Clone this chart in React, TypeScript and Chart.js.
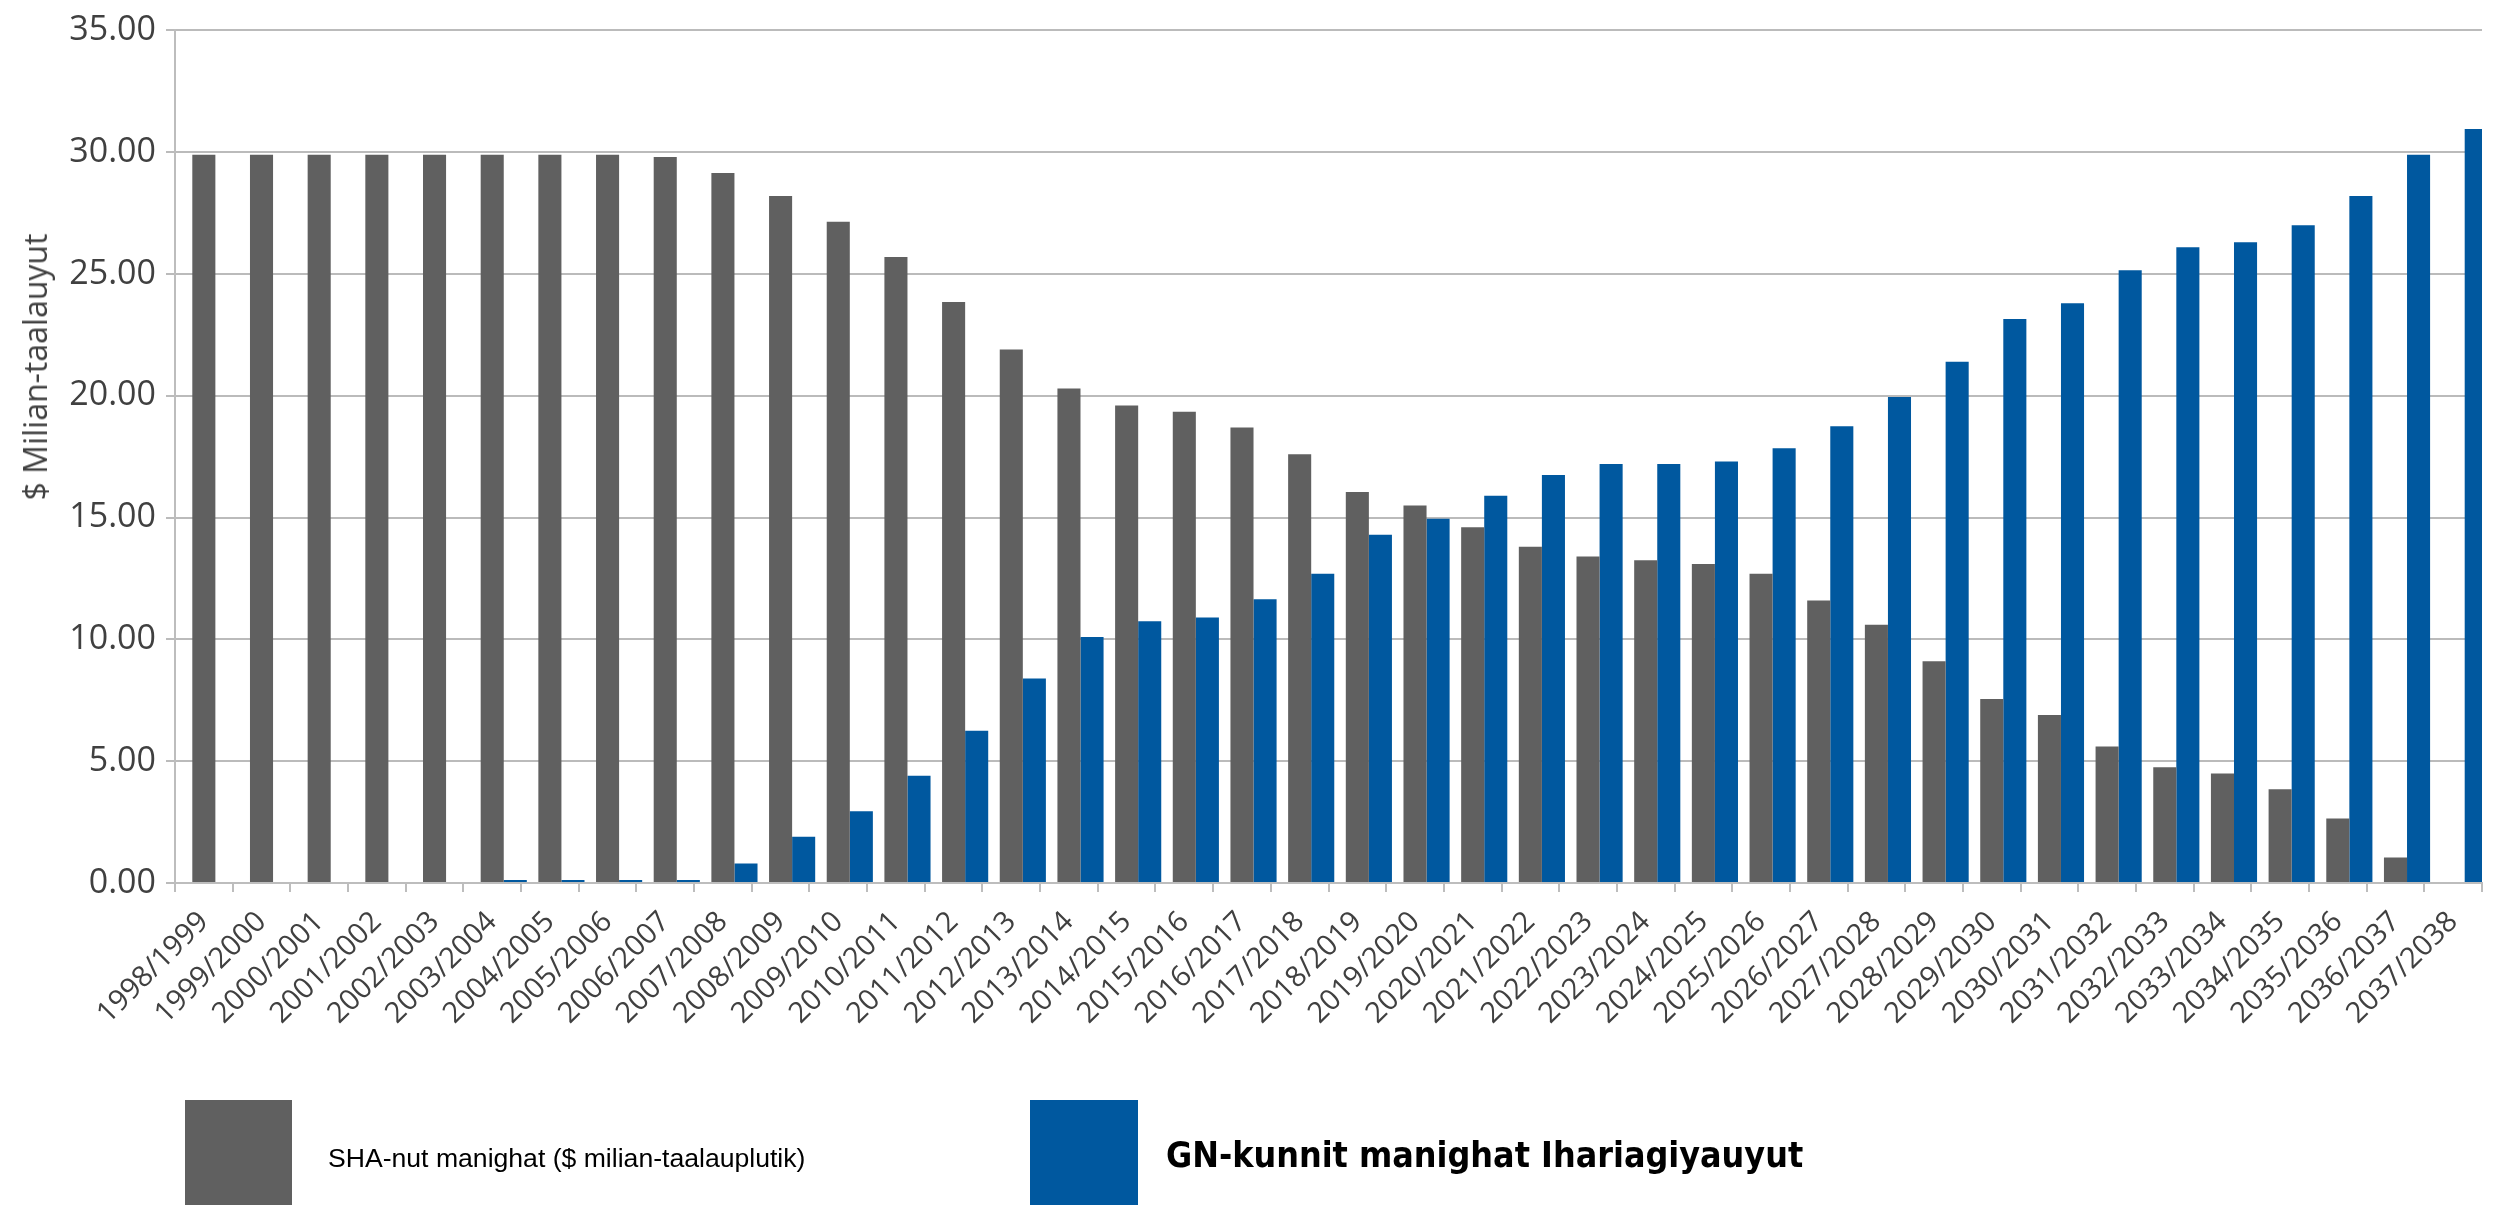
import React, { useEffect, useRef } from "react";
import { Chart, registerables } from "chart.js";

Chart.register(...registerables);

const categories = [
  "1998/1999", "1999/2000", "2000/2001", "2001/2002", "2002/2003",
  "2003/2004", "2004/2005", "2005/2006", "2006/2007", "2007/2008",
  "2008/2009", "2009/2010", "2010/2011", "2011/2012", "2012/2013",
  "2013/2014", "2014/2015", "2015/2016", "2016/2017", "2017/2018",
  "2018/2019", "2019/2020", "2020/2021", "2021/2022", "2022/2023",
  "2023/2024", "2024/2025", "2025/2026", "2026/2027", "2027/2028",
  "2028/2029", "2029/2030", "2030/2031", "2031/2032", "2032/2033",
  "2033/2034", "2034/2035", "2035/2036", "2036/2037", "2037/2038",
];

const shaValues = [
  29.9, 29.9, 29.9, 29.9, 29.9, 29.9, 29.9, 29.9, 29.8, 29.15,
  28.2, 27.15, 25.7, 23.85, 21.9, 20.3, 19.6, 19.35, 18.7, 17.6,
  16.05, 15.5, 14.6, 13.8, 13.4, 13.25, 13.1, 12.7, 11.6, 10.6,
  9.1, 7.55, 6.9, 5.6, 4.75, 4.5, 3.85, 2.65, 1.05, 0,
];

const gnValues = [
  0, 0, 0, 0, 0, 0.12, 0.12, 0.12, 0.12, 0.8,
  1.9, 2.95, 4.4, 6.25, 8.4, 10.1, 10.75, 10.9, 11.65, 12.7,
  14.3, 14.95, 15.9, 16.75, 17.2, 17.2, 17.3, 17.85, 18.75, 19.95,
  21.4, 23.15, 23.8, 25.15, 26.1, 26.3, 27.0, 28.2, 29.9, 30.95,
];

const seriesNames = [
  "SHA-nut manighat ($ milian-taalauplutik)",
  "GN-kunnit manighat Ihariagiyauyut",
];
const yAxisTitle = "$ Milian-taalauyut";
const yMin = 0;
const yMax = 35;
const yStep = 5;

const GREY = "#606060";
const BLUE = "#00589f";
const GRID = "rgba(120,120,120,0.5)";
const AXIS = "#bdbdbd";
const TEXT = "#404040";
const W = 2500;
const H = 1205;

export default function App() {
  const ref = useRef<HTMLCanvasElement>(null);

  useEffect(() => {
    const n = categories.length;
    const shift = 0.2;
    const chart = new Chart(ref.current as HTMLCanvasElement, {
      type: "bar",
      data: {
        labels: categories,
        datasets: [
          {
            label: seriesNames[0],
            data: shaValues.map((v, i) => ({ x: i, y: v })),
            backgroundColor: GREY,
            xAxisID: "xb",
            categoryPercentage: 0.8,
            barPercentage: 1,
          },
          {
            label: seriesNames[1],
            data: gnValues.map((v, i) => ({ x: i, y: v })),
            backgroundColor: BLUE,
            xAxisID: "xb",
            categoryPercentage: 0.8,
            barPercentage: 1,
          },
        ] as any,
      },
      options: {
        responsive: false,
        animation: false,
        font: { family: "'Open Sans', sans-serif" },
        layout: { padding: { top: 26, right: 18, left: 0, bottom: 0 } },
        plugins: {
          legend: { display: false },
          tooltip: { enabled: false },
          title: { display: false },
        },
        scales: {
          xb: {
            type: "linear",
            display: false,
            position: "bottom",
            offset: false,
            min: -0.5 - shift,
            max: n - 0.5 - shift,
            ticks: { stepSize: 1 },
            grid: { display: false },
          },
          x: {
            type: "category",
            position: "bottom",
            offset: true,
            grid: {
              offset: true,
              drawOnChartArea: false,
              drawTicks: true,
              tickLength: 9,
              color: AXIS,
              lineWidth: 2,
            },
            border: { display: true, color: AXIS, width: 2 },
            ticks: {
              autoSkip: false,
              minRotation: 45,
              maxRotation: 45,
              padding: 13,
              color: TEXT,
              font: { family: "'Open Sans', sans-serif", size: 29 },
            },
            afterFit: (scale: any) => {
              scale.height = 322;
            },
          },
          y: {
            type: "linear",
            position: "left",
            min: yMin,
            max: yMax,
            z: 1,
            grid: {
              color: GRID,
              lineWidth: 2,
              drawTicks: true,
              tickLength: 9,
            },
            border: { display: true, color: AXIS, width: 2 },
            ticks: {
              stepSize: yStep,
              padding: 10,
              color: TEXT,
              font: { family: "'Open Sans', sans-serif", size: 34 },
              callback: (v: any) => Number(v).toFixed(2),
            },
            afterFit: (scale: any) => {
              scale.width = 175;
            },
          },
        } as any,
      },
    });
    return () => chart.destroy();
  }, []);

  return (
    <div style={{ position: "absolute", left: 0, top: 0, width: W, height: H, background: "#fff", overflow: "hidden" }}>
      <canvas ref={ref} width={W} height={H} style={{ width: W, height: H, display: "block" }} />
      <div
        style={{
          position: "absolute",
          left: 35,
          top: 367,
          transform: "translate(-50%, -50%) rotate(-90deg)",
          fontFamily: "'Open Sans', sans-serif",
          fontSize: 32,
          lineHeight: 1,
          color: TEXT,
          whiteSpace: "nowrap",
        }}
      >
        {yAxisTitle}
      </div>
      <div style={{ position: "absolute", left: 185, top: 1100, width: 107, height: 105, background: GREY }} />
      <div
        style={{
          position: "absolute",
          left: 328,
          top: 1145,
          fontFamily: "'Liberation Sans Narrow', 'Liberation Sans', sans-serif",
          fontSize: 26.6,
          lineHeight: 1,
          color: "#000",
          whiteSpace: "nowrap",
        }}
      >
        {seriesNames[0]}
      </div>
      <div style={{ position: "absolute", left: 1030, top: 1100, width: 108, height: 105, background: BLUE }} />
      <div
        style={{
          position: "absolute",
          left: 1166,
          top: 1137,
          fontFamily: "'DejaVu Sans Condensed', 'DejaVu Sans', sans-serif",
          fontStretch: "condensed",
          fontWeight: 700,
          fontSize: 35.5,
          lineHeight: 1,
          color: "#000",
          whiteSpace: "nowrap",
        }}
      >
        {seriesNames[1]}
      </div>
    </div>
  );
}
